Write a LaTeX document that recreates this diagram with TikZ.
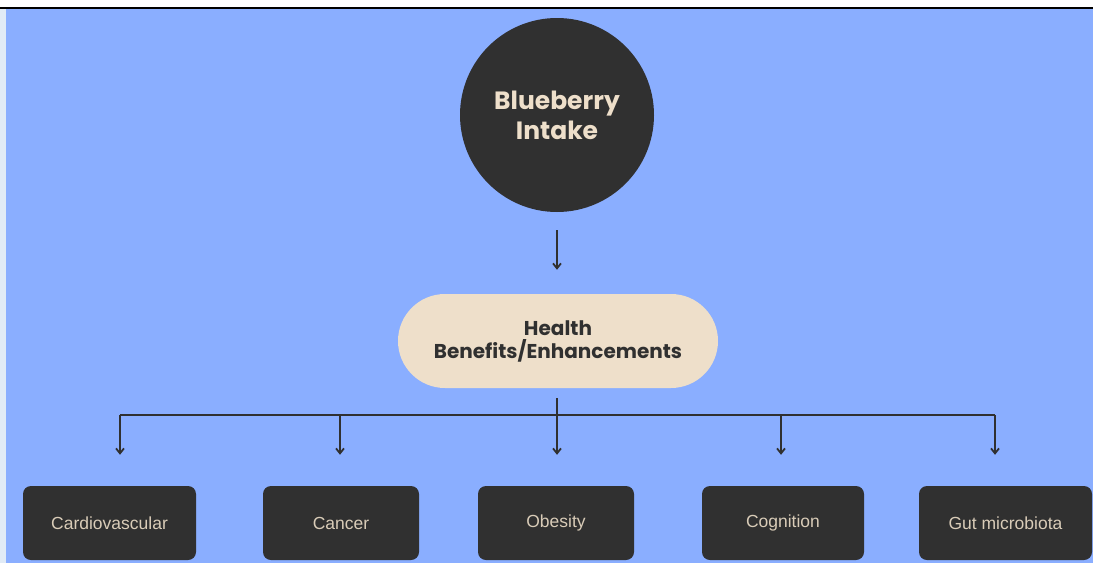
\documentclass[tikz,border=0pt]{standalone}
\usepackage{fontspec}
\setmainfont{Liberation Sans}
\newfontfamily\headfont{Poppins}
\usetikzlibrary{arrows.meta}

\definecolor{bgblue}{HTML}{8AAEFF}
\definecolor{stripgray}{HTML}{E1EBF6}
\definecolor{darkbox}{HTML}{303030}
\definecolor{cream}{HTML}{EEDFCA}
\definecolor{boxtext}{HTML}{D9CCB8}

\tikzset{
  link/.style={line width=1.8pt, draw=darkbox},
  tip/.style={link, -{Straight Barb[length=5pt,width=8pt]}},
  outcome/.style={rectangle, rounded corners=8pt, fill=darkbox, text=boxtext,
    minimum height=74pt, font=\fontsize{17.5}{20}\selectfont},
}

\begin{document}
\begin{tikzpicture}[x=1pt, y=-1pt]
    \useasboundingbox (0,0) rectangle (1093,563);
    % background
    \fill[white] (0,0) rectangle (1093,9);
    \fill[stripgray] (0,9) rectangle (6,563);
    \fill[bgblue] (6,9) rectangle (1093,563);
    \draw[line width=1.7pt] (0,8) -- (1093,8);

    % top of the tree
    \node[circle, fill=darkbox, minimum size=194pt, text=cream, align=center,
      font=\headfont\bfseries\fontsize{25}{30}\selectfont] (intake) at (557,115) {Blueberry\\Intake};
    \node[rectangle, rounded corners=47pt, fill=cream, text=darkbox, minimum width=320pt,
      minimum height=94pt, align=center,
      font=\headfont\bfseries\fontsize{20}{23}\selectfont] (benefits) at (558,341) {Health\\Benefits/Enhancements};

    % outcomes
    \node[outcome, minimum width=173pt] (cardio) at (109.5,523) {Cardiovascular};
    \node[outcome, minimum width=156pt] (cancer) at (341,523) {Cancer};
    \node[outcome, minimum width=156pt] (obesity) at (556,523) {Obesity};
    \node[outcome, minimum width=162pt] (cognition) at (783,523) {Cognition};
    \node[outcome, minimum width=173pt] (gut) at (1005.5,523) {Gut microbiota};

    \coordinate (bus) at (557,415);

    \draw[tip, shorten <=18pt, shorten >=24pt] (intake.south) -- (benefits.north -| intake.south);
    \draw[link, shorten <=10pt] (benefits.south -| bus) -- (bus);
    \draw[link] ([xshift=10.5pt]cardio.north |- bus) -- ([xshift=-10.5pt]gut.north |- bus);
    \foreach \n/\dx in {cardio/10.5, cancer/-1, obesity/1, cognition/-2, gut/-10.5} {
      \draw[tip] ([xshift=\dx pt]\n.north |- bus) -- ([xshift=\dx pt, yshift=31pt]\n.north);
    }
\end{tikzpicture}
\end{document}
